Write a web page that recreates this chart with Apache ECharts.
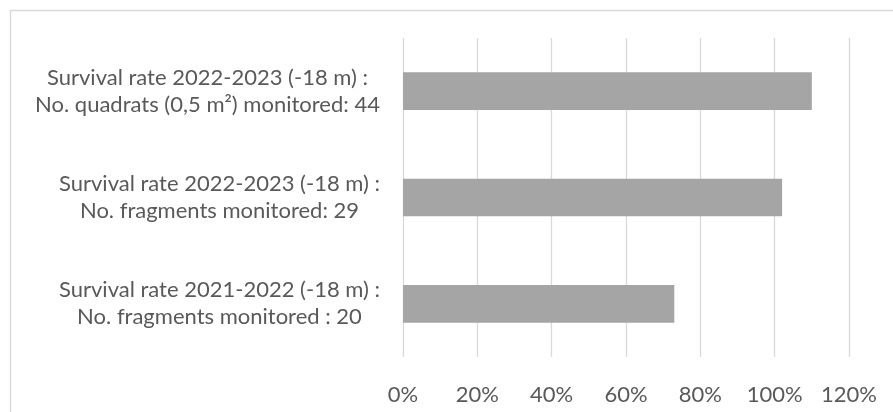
<!DOCTYPE html>
<html>
<head>
<meta charset="utf-8">
<style>
  html, body { margin: 0; padding: 0; background: #ffffff; }
  #chart { width: 893px; height: 412px; }
</style>
<script src="https://cdn.jsdelivr.net/npm/echarts@6/dist/echarts.min.js"></script>
</head>
<body>
<div id="chart"></div>
<script>
// Survey categories (top to bottom) and their survival rates in percent
const categories = [
  'Survival rate 2022-2023 (-18 m) :\nNo. quadrats (0,5 m²) monitored: 44',
  'Survival rate 2022-2023 (-18 m) :\nNo. fragments monitored: 29',
  'Survival rate 2021-2022 (-18 m) :\nNo. fragments monitored : 20'
];
const survivalRates = [110, 102, 73];
const xTicks = [0, 20, 40, 60, 80, 100, 120];

const FONT = 'Lato';
const FONT_SIZE = 22;
const TEXT_COLOR = '#595959';

// Measure the widest line of each label so its lines can be centred within the block
const ctx = document.createElement('canvas').getContext('2d');
ctx.font = FONT_SIZE + 'px ' + FONT;
const rich = {};
categories.forEach((c, i) => {
  const w = Math.max(...c.split('\n').map(l => ctx.measureText(l).width));
  rich['l' + i] = {
    width: Math.ceil(w), align: 'center',
    fontFamily: FONT, fontSize: FONT_SIZE, color: TEXT_COLOR, lineHeight: 27
  };
});

const chart = echarts.init(document.getElementById('chart'), null, { renderer: 'canvas' });
chart.setOption({
  animation: false,
  backgroundColor: '#ffffff',
  graphic: [{
    type: 'rect',
    left: 8, top: 8,
    shape: { width: 900, height: 420 },
    style: { fill: 'none', stroke: '#D9D9D9', lineWidth: 1.3 },
    silent: true
  }],
  grid: { left: 403, right: 44, top: 38, bottom: 55, containLabel: false },
  xAxis: {
    type: 'value',
    min: xTicks[0],
    max: xTicks[xTicks.length - 1],
    interval: xTicks[1] - xTicks[0],
    axisLine: { show: false },
    axisTick: { show: false },
    splitLine: { lineStyle: { color: '#D9D9D9', width: 1.3 } },
    axisLabel: {
      formatter: '{value}%',
      color: TEXT_COLOR, fontFamily: FONT, fontSize: FONT_SIZE, margin: 27
    }
  },
  yAxis: {
    type: 'category',
    inverse: true,
    data: categories,
    axisLine: { show: false },
    axisTick: { show: false },
    axisLabel: {
      margin: 23,
      align: 'right',
      formatter: (value, idx) => value.split('\n').map(l => '{l' + idx + '|' + l + '}').join('\n'),
      rich: rich
    }
  },
  series: [{
    type: 'bar',
    data: survivalRates,
    barWidth: '35.5%',
    itemStyle: { color: '#A5A5A5' }
  }]
});
</script>
</body>
</html>
